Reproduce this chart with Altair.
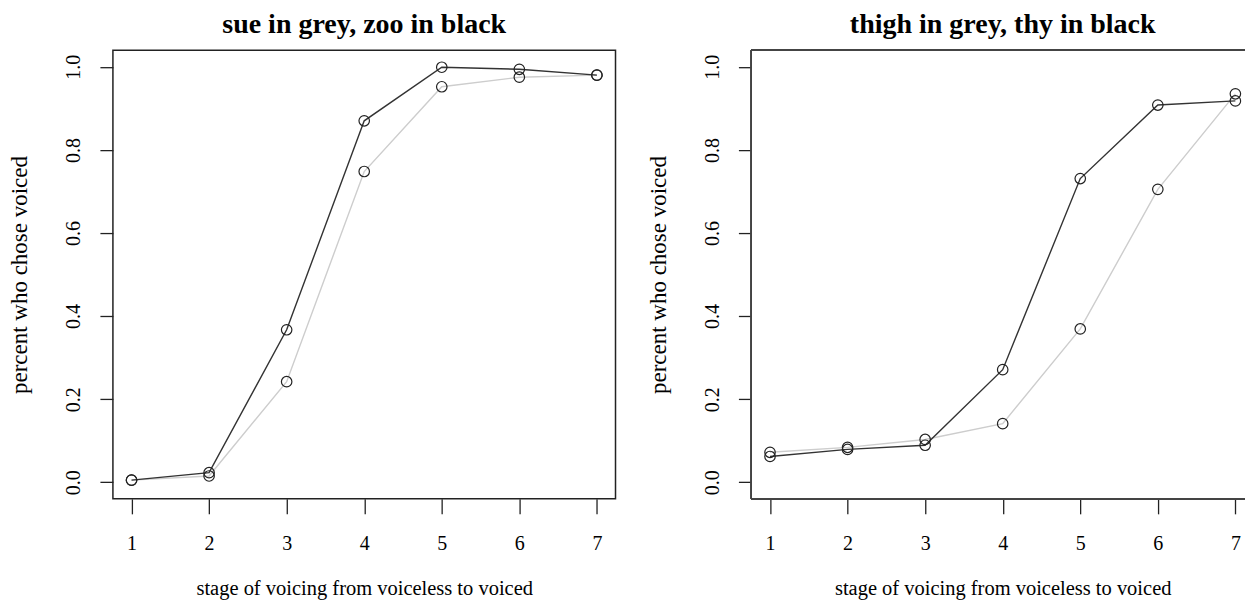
import altair as alt
import pandas as pd

stages = [1, 2, 3, 4, 5, 6, 7]
sue_grey = [0.005, 0.015, 0.242, 0.748, 0.952, 0.975, 0.980]
zoo_black = [0.005, 0.023, 0.367, 0.870, 0.999, 0.994, 0.980]
thigh_grey = [0.072, 0.084, 0.103, 0.141, 0.369, 0.705, 0.935]
thy_black = [0.062, 0.079, 0.089, 0.271, 0.731, 0.908, 0.918]

titles = ["sue in grey, zoo in black", "thigh in grey, thy in black"]
y_ticks = [0.0, 0.2, 0.4, 0.6, 0.8, 1.0]
x_label = "stage of voicing from voiceless to voiced"
y_label = "percent who chose voiced"

FONT = "Liberation Serif"
W, H = 503, 449
FRAME = "#222222"


def panel(title, grey, black, open_right=False):
    df = pd.DataFrame({
        "stage": stages * 2,
        "value": grey + black,
        "series": ["grey"] * len(stages) + ["black"] * len(stages),
    })
    x = alt.X("stage:Q",
              scale=alt.Scale(domain=[0.76, 7.24], nice=False, zero=False),
              axis=alt.Axis(values=stages, format="d", grid=False, domain=False,
                            tickSize=15, tickWidth=1.3, tickColor="#222",
                            labelFont=FONT, labelFontSize=20, labelColor="black",
                            labelBaseline="alphabetic", labelPadding=36,
                            title=x_label, titleFont=FONT, titleFontSize=20.5,
                            titleFontWeight="normal", titleColor="black",
                            titleBaseline="alphabetic", titleY=96))
    y = alt.Y("value:Q",
              scale=alt.Scale(domain=[-0.04, 1.04], nice=False, zero=False),
              axis=alt.Axis(values=y_ticks, format=".1f", grid=False, domain=False,
                            tickSize=13, tickWidth=1.3, tickColor="#222",
                            labelFont=FONT, labelFontSize=20, labelColor="black",
                            labelAngle=270, labelAlign="center",
                            labelBaseline="alphabetic", labelPadding=20,
                            title=y_label, titleFont=FONT, titleFontSize=23,
                            titleFontWeight="normal", titleColor="black",
                            titleAngle=270, titleBaseline="alphabetic",
                            titleX=-86))
    color = alt.Color("series:N",
                      scale=alt.Scale(domain=["grey", "black"],
                                      range=["#cdcdcd", "#333333"]),
                      legend=None)
    lines = alt.Chart(df).mark_line(strokeWidth=1.4).encode(x=x, y=y, color=color)
    points = alt.Chart(df).mark_point(shape="circle", filled=False, size=110,
                                      color="#222222", strokeWidth=1.2,
                                      opacity=1).encode(x=x, y=y)
    layers = [lines, points]
    props = dict(width=W, height=H,
                 title=alt.TitleParams(title, font=FONT, fontSize=28,
                                       fontWeight="bold", color="black",
                                       anchor="middle", baseline="alphabetic",
                                       offset=-11))
    if open_right:
        # frame drawn as three edges; its right edge falls outside the page
        edge = dict(color="#444444", strokeWidth=1.2)
        top = alt.Chart(df).mark_rule(**edge).encode(
            x=alt.value(0), x2=alt.value(W), y=alt.value(0))
        bottom = alt.Chart(df).mark_rule(**edge).encode(
            x=alt.value(0), x2=alt.value(W), y=alt.value(H))
        left = alt.Chart(df).mark_rule(**edge).encode(
            x=alt.value(0), y=alt.value(0), y2=alt.value(H))
        layers = [top, bottom, left] + layers
        props["view"] = alt.ViewBackground(stroke="transparent")
    return alt.layer(*layers).properties(**props)


chart = alt.hconcat(
    panel(titles[0], sue_grey, zoo_black),
    panel(titles[1], thigh_grey, thy_black, open_right=True),
    spacing=136,
).properties(
    bounds="flush",
    padding={"left": 0, "top": 1, "right": -11, "bottom": 0},
).configure_view(stroke=FRAME, strokeWidth=1.5)

chart.save("out.html", embed_options={"renderer": "svg", "actions": False})
